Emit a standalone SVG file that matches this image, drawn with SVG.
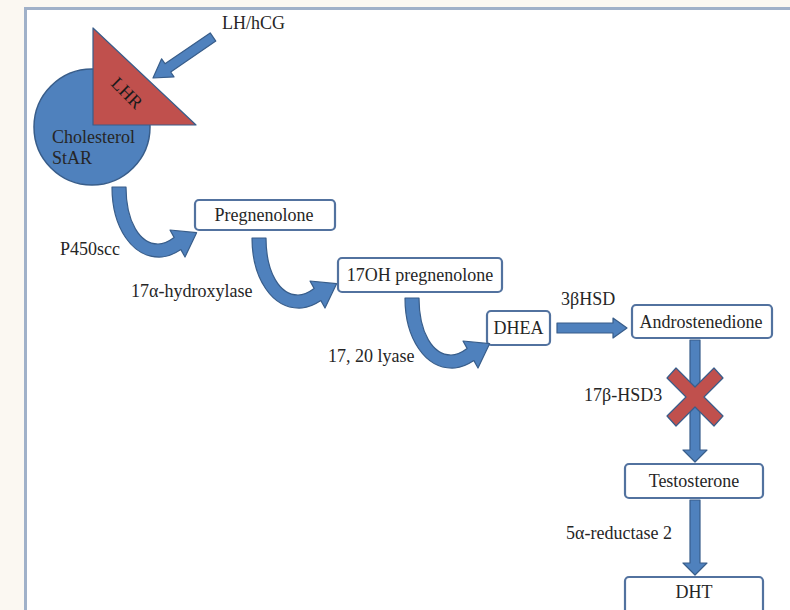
<svg xmlns="http://www.w3.org/2000/svg" width="790" height="610" viewBox="0 0 790 610">
<defs>
<style>
.t{font-family:"Liberation Serif","Times New Roman",serif;font-size:18px;fill:#262626}
.c{text-anchor:middle}
.box{fill:#fff;stroke:#52729f;stroke-width:2.2}
.ar{fill:#4f81bd;stroke:#385d8a;stroke-width:1.2;stroke-linejoin:round}
.red{fill:#c0504d;stroke:#385d8a;stroke-width:1.2;stroke-linejoin:round}
</style>
<path id="curv" d="M0 0 C0 40 20 72 50 70 C57 69.5 63 66.5 68.9 62.6 L73 70 L84.6 45.7 L58 43 L62.1 50.4 C56 55 50 57 46 57 C28 57 14 35 14 0 Z"/>
</defs>
<rect x="0" y="0" width="790" height="610" fill="#fbf8f2"/>
<rect x="25.5" y="8.5" width="800" height="700" fill="#fff" stroke="#a0b1c9" stroke-width="3"/>

<g id="cholesterol">
<circle cx="92" cy="127" r="58" fill="#4f81bd" stroke="#385d8a" stroke-width="1.5"/>
<text class="t" x="52" y="143">Cholesterol</text>
<text class="t" x="52" y="164">StAR</text>
</g>
<g id="lhr">
<polygon class="red" points="93,28 93,125 196,125"/>
<text class="t c" x="127" y="99" transform="rotate(45 127 93)" style="fill:#1a1a1a">LHR</text>
</g>
<g id="lhhcg">
<text class="t" x="222" y="29">LH/hCG</text>
</g>
<g id="pregnenolone">
<rect class="box" x="195" y="200" width="140" height="30" rx="4"/>
<text class="t c" x="264" y="221">Pregnenolone</text>
</g>
<g id="oh-pregnenolone">
<rect class="box" x="338" y="258" width="164" height="34" rx="4"/>
<text class="t c" x="420" y="281">17OH pregnenolone</text>
</g>
<g id="dhea">
<rect class="box" x="487" y="311" width="63" height="34" rx="4"/>
<text class="t c" x="518.5" y="334">DHEA</text>
</g>
<g id="androstenedione">
<rect class="box" x="632" y="305" width="140" height="33" rx="4"/>
<text class="t c" x="701" y="328">Androstenedione</text>
</g>
<g id="testosterone">
<rect class="box" x="625" y="464" width="138" height="34" rx="4"/>
<text class="t c" x="694" y="487">Testosterone</text>
</g>
<g id="dht">
<rect class="box" x="625" y="577" width="138" height="50" rx="4"/>
<text class="t c" x="694" y="598">DHT</text>
</g>

<g id="connectors">
<polygon class="ar" points="210.2,32.9 215.8,41.1 170.7,72 174,76.9 153,78 161.6,58.8 165,63.7"/>
<use href="#curv" class="ar" x="112" y="187"/>
<use href="#curv" class="ar" x="252" y="238"/>
<use href="#curv" class="ar" x="405" y="298"/>
<polygon class="ar" points="557,323 613,323 613,318 627,328 613,338 613,333 557,333"/>
<polygon class="ar" points="690,340 700,340 700,450 707,450 695,462 683,450 690,450"/>
<polygon class="ar" points="690,500 700,500 700,563 707,563 695,575 683,563 690,563"/>
<polygon class="red" transform="translate(695 397)" points="-28,-19 -19,-29 0,-10 19,-29 28,-19 9,0 28,19 19,29 0,10 -19,29 -28,19 -9,0"/>
<text class="t" x="60" y="255">P450scc</text>
<text class="t" x="131" y="297">17α-hydroxylase</text>
<text class="t" x="328" y="362">17, 20 lyase</text>
<text class="t" x="561" y="305">3βHSD</text>
<text class="t" x="584" y="401">17β-HSD3</text>
<text class="t" x="566" y="539">5α-reductase 2</text>
</g>
</svg>
